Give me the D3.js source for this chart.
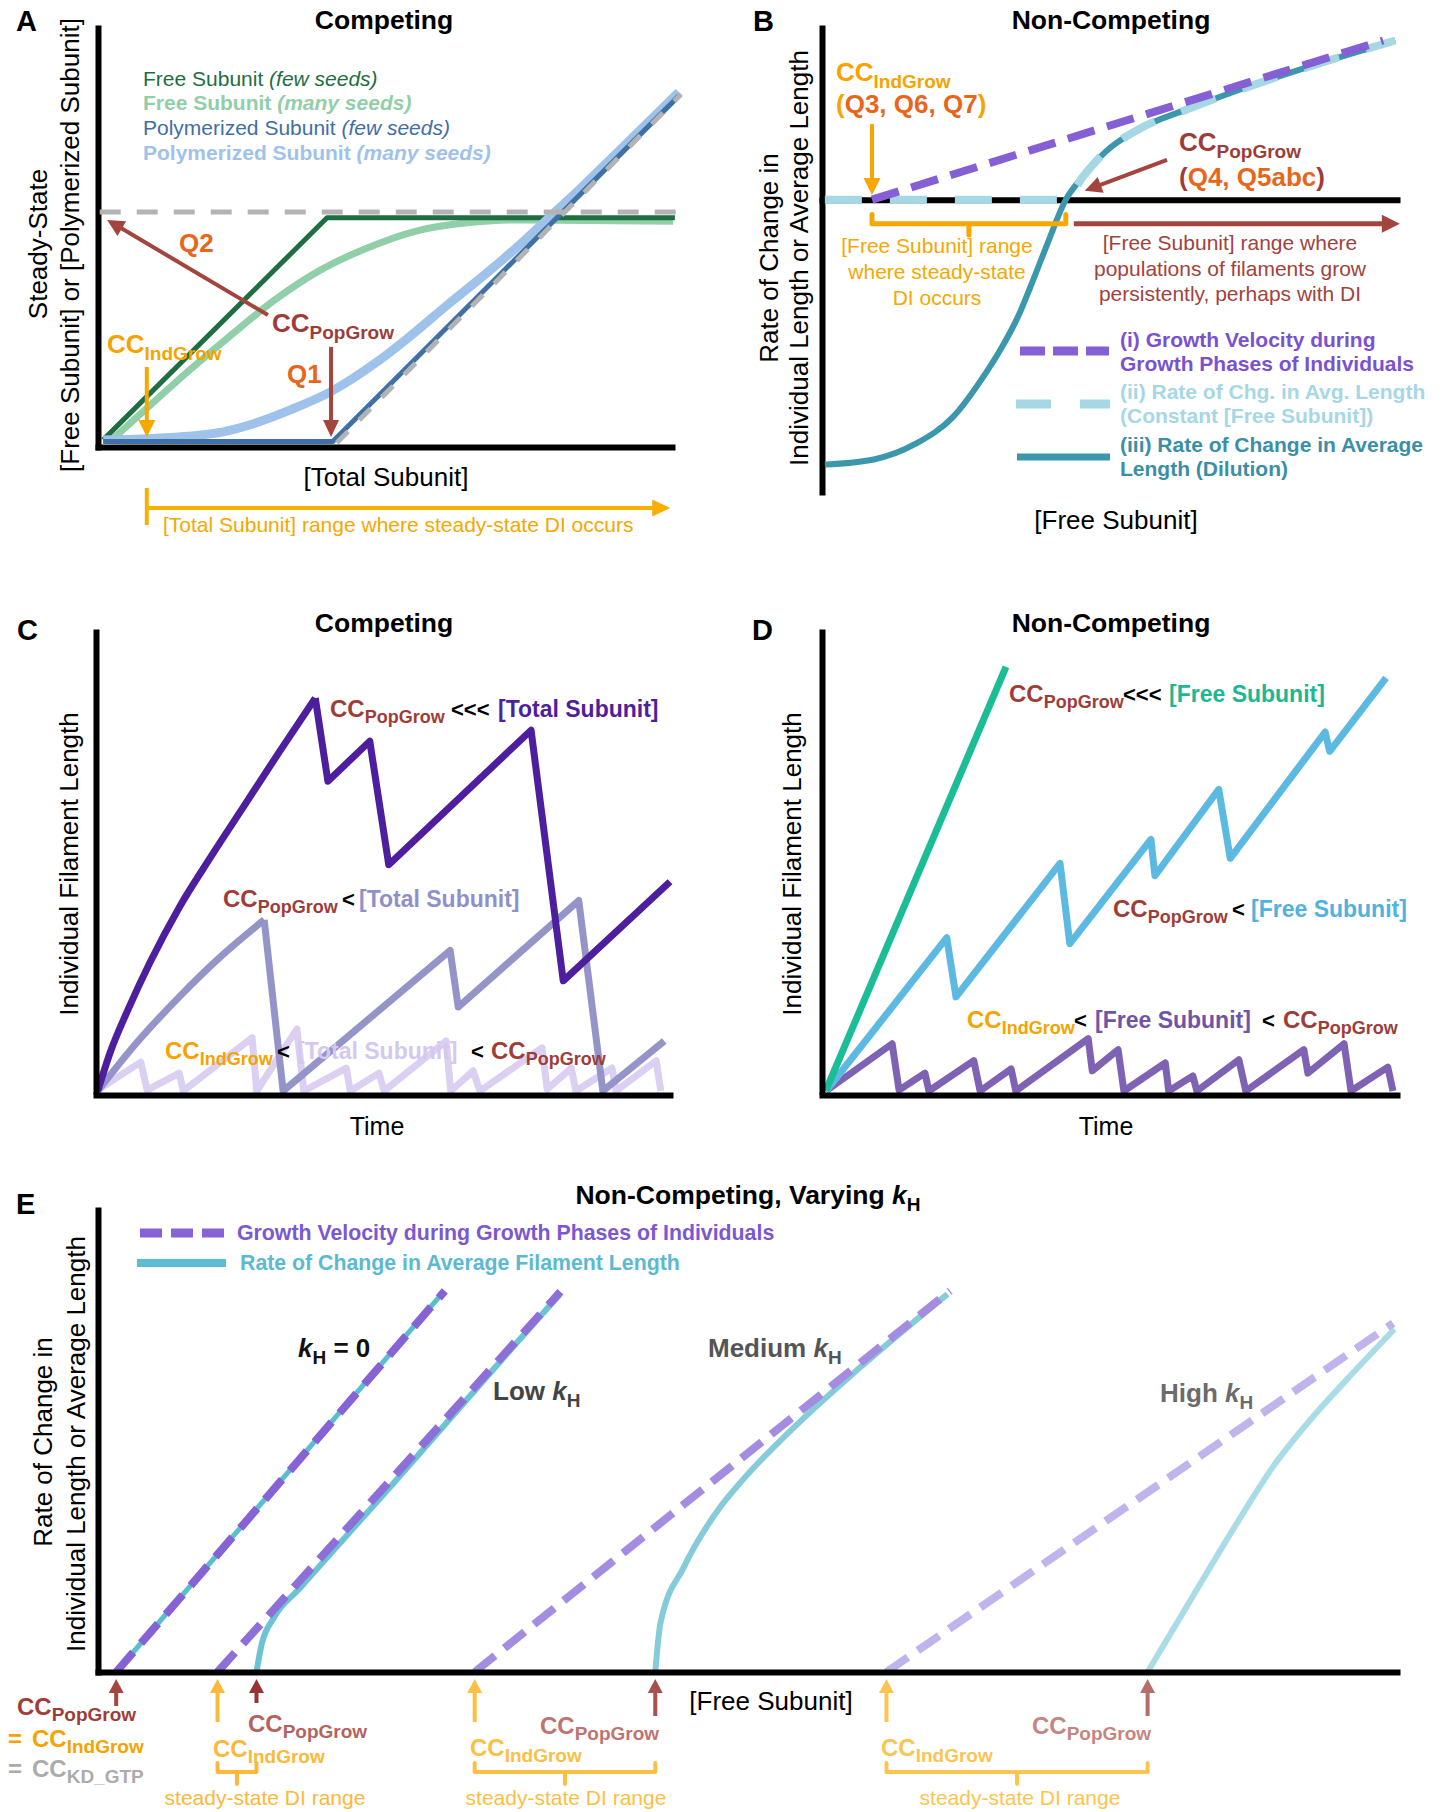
<html>
<head>
<meta charset="utf-8">
<style>
  body { margin: 0; background: #fff; }
  svg { display: block; font-family: "Liberation Sans", Arial, sans-serif; }
  .axis path { stroke: #000; stroke-width: 6px; stroke-linecap: square; }
  .axis .tick { display: none; }
</style>
</head>
<body>
<svg width="1450" height="1812"></svg>
<script src="https://d3js.org/d3.v7.min.js"></script>
<script>
// ---------- Panel A: steady state vs [Total Subunit] (arbitrary 0-100 units) ----------
var aCC = [8.5, 40.6];               // CC_IndGrow, CC_PopGrow
var aFreeFew = [[0.9,1.7],[39.9,54.7],[100.5,54.7]];
var aFreeMany = [[2.4,1.7],[9.1,10.0],[16.0,18.4],[23.0,26.5],[30.8,35.1],[38.2,41.8],[46.9,47.5],[55.6,51.6],[64.3,53.5],[73.0,54.2],[100.2,53.9]];
var aPolyFew = [[0.9,1.3],[40.9,1.3],[101.2,83.8]];
var aPolyMany = [[0.9,1.7],[10.3,2.1],[21.8,3.6],[26.5,5.3],[33.4,8.8],[40.4,13.1],[48.6,20.3],[53.8,25.8],[61.3,34.4],[67.1,40.8],[73.0,47.7],[78.7,54.9],[84.5,62.3],[90.4,70.2],[101.2,84.7]];
var aKdLevel = [[0.3,56.1],[100.7,56.1]];
var aKdSlope = [[41.6,1.0],[101.6,84.2]];

// ---------- Panel B: rates vs [Free Subunit] ----------
var bCC = [8.7, 42.4];
var bGrowth = [[8.7,0],[97.6,34.3]];
var bDilution = [[0.5,-57.1],[9.0,-56.0],[16.3,-52.6],[22.8,-46.8],[28.3,-37.7],[31.0,-32.4],[34.1,-25.2],[36.7,-17.4],[39.2,-9.5],[42.4,0],[45.4,5.0],[49.2,10.2],[55.1,15.2],[63.3,19.4],[71.3,23.1],[83.5,28.2],[99.7,34.3]];
var bConstFree = [[0.5,0],[42.4,0],[45.4,5.0],[49.2,10.2],[55.1,15.2],[63.3,19.4],[71.3,23.1],[83.5,28.2],[99.7,34.3]];

// ---------- Panel C: competing, length vs time ----------
var cHighRise = [[0.3,0],[2.5,8.5],[5.5,17.5],[9.4,28],[14.5,40],[20,51],[26,62.5],[32,74],[38.2,85.6]];
var cHighDI = [[38.2,85.6],[40.4,67.5],[47.7,76.2],[51.0,49.3],[75.8,78.6],[81.4,24.0],[100,45.6]];
var cMidRise = [[0.3,0],[6.6,9.8],[14.5,20.5],[22.1,29.7],[29.3,37.3]];
var cMidDI = [[29.3,37.3],[32.6,0],[61.7,30.6],[63.1,18.3],[84.1,41.5],[88.3,0],[99,10.9]];
var cLowDI = [[0,0],[7.8,6.3],[8.9,0.2],[14.5,3.9],[15.2,0],[27.2,11.6],[28.0,0],[35.0,13.5],[36.2,0],[43.6,5.0],[44.3,0],[49.3,3.9],[50.2,0],[61.0,10.9],[61.8,0],[65.7,4.4],[66.9,0],[77.7,9.4],[78.6,0.4],[82.8,5.0],[83.6,0],[89.9,5.0],[90.6,0],[97.6,6.6],[98.4,0]];

// ---------- Panel D: non-competing, length vs time ----------
var dFast = [[0.7,0.2],[32,92.4]];
var dMid = [[0.7,0],[21.7,33.4],[23.3,20.5],[41.4,49.6],[43.1,32.1],[57.2,54.8],[57.9,46.9],[69,65.7],[71,50.7],[87.5,78.2],[88.3,74],[98.1,90]];
var dSlow = [[0.7,0],[12.2,10.3],[13.4,0.2],[17.9,3.9],[18.6,0],[26.4,6.6],[27.5,0],[32.9,4.8],[33.7,0],[46.3,11.4],[47,4.4],[51.5,9],[52.5,0],[59.7,6.1],[60.3,0],[64.5,3.3],[65.2,0],[72.5,6.8],[73.7,0],[83.8,9],[84.5,3.9],[90.8,10.3],[92,0],[98.4,5.2],[99.3,0]];

// ---------- Panel E: varying kH ----------
var eLabels = ["kH = 0", "Low kH", "Medium kH", "High kH"];
var eIndCC = [1.4, 9.2, 29.0, 60.7];
var ePopCC = [1.4, 12.2, 42.9, 80.8];
var eGrowthTop = [[26.7,82.5],[35.6,82.3],[65.6,82.5],[99.7,75.5]];
var eAvg = [
  [[1.4,0],[26.6,82.3]],
  [[12.2,0],[12.6,6],[13.6,12],[15.5,18],[18.5,27.5],[22,38.5],[27,54.5],[32,70.5],[35.5,81.6]],
  [[42.9,0],[43.3,10.6],[45.1,22.7],[47.9,35.7],[49.7,41.8],[53.3,52.2],[58.7,66.0],[65.4,81.8]],
  [[80.8,0],[83.8,14.1],[87.3,30.5],[90.6,45.0],[93.3,54.5],[96.2,63.5],[99.8,74.2]]
];

var RED = "#9e3d38", ORANGE = "#f5a300", QORANGE = "#e8661b", ARROWRED = "#a3443d";

var svg = d3.select("svg");
svg.append("rect").attr("width", 1450).attr("height", 1812).attr("fill", "#fff");

function txt(g, x, y, s, o) {
  o = o || {};
  var t = g.append("text").attr("x", x).attr("y", y).text(s)
    .attr("font-size", o.size || 21)
    .attr("fill", o.fill || "#000")
    .attr("text-anchor", o.anchor || "start");
  if (o.bold) t.attr("font-weight", "bold");
  if (o.italic) t.attr("font-style", "italic");
  return t;
}

function rich(g, x, y, parts, anchor) {
  var t = g.append("text").attr("x", x).attr("y", y).attr("text-anchor", anchor || "start");
  var shift = 0;
  parts.forEach(function(p) {
    var s = t.append("tspan").text(p.t)
      .attr("font-size", p.size || 21)
      .attr("fill", p.fill || "#000")
      .attr("font-weight", p.bold ? "bold" : "normal")
      .attr("font-style", p.italic ? "italic" : "normal");
    if (p.x != null) s.attr("x", p.x);
    var want = p.sub || 0;
    if (want !== shift) { s.attr("dy", want - shift); shift = want; }
  });
  return t;
}

function cc(sub, fill, size, subSize, x) {
  return [{t: "CC", x: x, size: size, bold: true, fill: fill},
          {t: sub, size: subSize, bold: true, fill: fill, sub: Math.round(size * 0.27)}];
}

function arrow(g, x1, y1, x2, y2, color, w, hl, hw) {
  var a = Math.atan2(y2 - y1, x2 - x1), c = Math.cos(a), s = Math.sin(a);
  var bx = x2 - hl * c, by = y2 - hl * s;
  g.append("line").attr("x1", x1).attr("y1", y1).attr("x2", bx + c).attr("y2", by + s)
    .attr("stroke", color).attr("stroke-width", w);
  g.append("path")
    .attr("d", "M" + x2 + "," + y2 + "L" + (bx - hw / 2 * s) + "," + (by + hw / 2 * c) + "L" + (bx + hw / 2 * s) + "," + (by - hw / 2 * c) + "Z")
    .attr("fill", color);
}

function bracket(g, xa, xb, yTop, yMid, yTick, color, w) {
  var xm = (xa + xb) / 2;
  g.append("path")
    .attr("d", "M" + xa + "," + yTop + "V" + yMid + "H" + xb + "V" + yTop + "M" + xm + "," + yMid + "V" + yTick)
    .attr("fill", "none").attr("stroke", color).attr("stroke-width", w)
    .attr("stroke-linejoin", "round").attr("stroke-linecap", "round");
}

function vlabel(g, cx, cy, s, size) {
  g.append("text").attr("transform", "translate(" + cx + "," + cy + ") rotate(-90)")
    .attr("text-anchor", "middle").attr("dy", "0.3em").attr("font-size", size).text(s);
}

function path(g, data, line, color, w, dash) {
  var p = g.append("path").datum(data).attr("d", line)
    .attr("fill", "none").attr("stroke", color).attr("stroke-width", w)
    .attr("stroke-linejoin", "round");
  if (dash) p.attr("stroke-dasharray", dash);
  return p;
}

function axes(g, x, y, xAt, yAt) {
  g.append("g").attr("class", "axis").attr("transform", "translate(0," + xAt + ")")
    .call(d3.axisBottom(x).tickValues([]).tickSizeOuter(0));
  g.append("g").attr("class", "axis").attr("transform", "translate(" + yAt + ",0)")
    .call(d3.axisLeft(y).tickValues([]).tickSizeOuter(0));
}

// ======================= Panel A =======================
var gA = svg.append("g");
var xA = d3.scaleLinear().domain([0, 100]).range([98, 672]);
var yA = d3.scaleLinear().domain([0, 100]).range([447, 28]);
var lnA = d3.line().x(function(d) { return xA(d[0]); }).y(function(d) { return yA(d[1]); });
var cvA = d3.line().x(function(d) { return xA(d[0]); }).y(function(d) { return yA(d[1]); }).curve(d3.curveMonotoneX);

axes(gA, xA, yA, yA(0), xA(0));
path(gA, aFreeMany, cvA, "#91cfa9", 7);
path(gA, aFreeFew, lnA, "#1e6e42", 5);
path(gA, aPolyMany, cvA, "#9fc2ea", 9);
path(gA, aPolyFew, lnA, "#3f70a6", 5);
path(gA, aKdLevel, lnA, "#b3b3b3", 5, "21,16");
path(gA, aKdSlope, lnA, "#b3b3b3", 5, "16,16");

txt(gA, 16, 31, "A", {size: 29, bold: true});
txt(gA, 384, 29, "Competing", {size: 26.5, bold: true, anchor: "middle"});
rich(gA, 143, 86, [{t: "Free Subunit ", fill: "#1e6e42"}, {t: "(few seeds)", italic: true, fill: "#1e6e42"}]);
rich(gA, 143, 110, [{t: "Free Subunit ", bold: true, fill: "#91cfa9"}, {t: "(many seeds)", bold: true, italic: true, fill: "#91cfa9"}]);
rich(gA, 143, 135, [{t: "Polymerized Subunit ", fill: "#3f6ea6"}, {t: "(few seeds)", italic: true, fill: "#3f6ea6"}]);
rich(gA, 143, 160, [{t: "Polymerized Subunit ", bold: true, fill: "#9fc2ea"}, {t: "(many seeds)", bold: true, italic: true, fill: "#9fc2ea"}]);

arrow(gA, xA(29.6), yA(31.5), xA(1.6), yA(54.2), ARROWRED, 4, 17, 17);
txt(gA, 179, 252, "Q2", {size: 26, bold: true, fill: QORANGE});
rich(gA, 272, 332, cc("PopGrow", RED, 26, 19));
arrow(gA, xA(aCC[1]), yA(23.9), xA(aCC[1]), yA(2.4), ARROWRED, 4, 17, 16);
txt(gA, 287, 383, "Q1", {size: 26, bold: true, fill: QORANGE});
rich(gA, 107, 353, cc("IndGrow", ORANGE, 26, 19));
arrow(gA, xA(aCC[0]), yA(19.1), xA(aCC[0]), yA(2.4), "#f6a800", 4, 17, 17);

txt(gA, 386, 486, "[Total Subunit]", {size: 26, anchor: "middle"});
vlabel(gA, 39, 244, "Steady-State", 26);
vlabel(gA, 71, 245, "[Free Subunit] or [Polymerized Subunit]", 26);

gA.append("line").attr("x1", xA(aCC[0])).attr("x2", xA(aCC[0])).attr("y1", 488).attr("y2", 525)
  .attr("stroke", "#f7b000").attr("stroke-width", 4);
arrow(gA, xA(aCC[0]), 508, xA(99.7), 508, "#f7b000", 4, 18, 17);
txt(gA, 163, 532, "[Total Subunit] range where steady-state DI occurs", {size: 21, fill: "#f5a800"});

// ======================= Panel B =======================
var gB = svg.append("g");
var xB = d3.scaleLinear().domain([0, 100]).range([822, 1397]);
var yB = d3.scaleLinear().domain([-63, 37]).range([492, 28]);
var lnB = d3.line().x(function(d) { return xB(d[0]); }).y(function(d) { return yB(d[1]); });
var cvB = d3.line().x(function(d) { return xB(d[0]); }).y(function(d) { return yB(d[1]); }).curve(d3.curveMonotoneX);

axes(gB, xB, yB, yB(0), xB(0));
path(gB, bDilution, cvB, "#3b97ab", 6);
path(gB, bConstFree, cvB, "#a6d7e5", 8, "37,28");
path(gB, bGrowth, lnB, "#8460d4", 8, "28,13");

txt(gB, 753, 31, "B", {size: 29, bold: true});
txt(gB, 1111, 29, "Non-Competing", {size: 26.5, bold: true, anchor: "middle"});

rich(gB, 836, 81, cc("IndGrow", ORANGE, 26, 19));
rich(gB, 836, 113, [{t: "(", bold: true, size: 26, fill: ORANGE}, {t: "Q3, Q6, Q7", bold: true, size: 26, fill: QORANGE}, {t: ")", bold: true, size: 26, fill: ORANGE}]);
arrow(gB, xB(bCC[0]), yB(16.3), xB(bCC[0]), yB(1.0), "#f6a800", 4, 17, 17);

rich(gB, 1179, 151, cc("PopGrow", RED, 26, 19));
rich(gB, 1179, 186, [{t: "(", bold: true, size: 26, fill: RED}, {t: "Q4, Q5abc", bold: true, size: 26, fill: QORANGE}, {t: ")", bold: true, size: 26, fill: RED}]);
arrow(gB, xB(60), yB(8.6), xB(45.7), yB(1.9), ARROWRED, 4, 17, 17);

bracket(gB, xB(bCC[0]), xB(bCC[1]), yB(-3.2), yB(-5.2), yB(-7.6), "#f6a800", 5);
["[Free Subunit] range", "where steady-state", "DI occurs"].forEach(function(s, i) {
  txt(gB, 937, 253 + i * 26, s, {size: 21, fill: "#f5a800", anchor: "middle"});
});
arrow(gB, xB(43.8), yB(-5.2), xB(100.5), yB(-5.2), ARROWRED, 5, 18, 18);
["[Free Subunit] range where", "populations of filaments grow", "persistently, perhaps with DI"].forEach(function(s, i) {
  txt(gB, 1230, 250 + i * 25.5, s, {size: 21, fill: "#a1433c", anchor: "middle"});
});

gB.append("line").attr("x1", 1020).attr("x2", 1109).attr("y1", 351).attr("y2", 351)
  .attr("stroke", "#8460d4").attr("stroke-width", 9).attr("stroke-dasharray", "25,8");
gB.append("line").attr("x1", 1016).attr("x2", 1110).attr("y1", 404).attr("y2", 404)
  .attr("stroke", "#a6d7e5").attr("stroke-width", 9).attr("stroke-dasharray", "35,29");
gB.append("line").attr("x1", 1017).attr("x2", 1110).attr("y1", 457).attr("y2", 457)
  .attr("stroke", "#3b97ab").attr("stroke-width", 7);
txt(gB, 1120, 347, "(i) Growth Velocity during", {size: 21, bold: true, fill: "#7a52cf"});
txt(gB, 1120, 371, "Growth Phases of Individuals", {size: 21, bold: true, fill: "#7a52cf"});
txt(gB, 1120, 399, "(ii) Rate of Chg. in Avg. Length", {size: 21, bold: true, fill: "#a6d7e5"});
txt(gB, 1120, 423, "(Constant [Free Subunit])", {size: 21, bold: true, fill: "#a6d7e5"});
txt(gB, 1120, 452, "(iii) Rate of Change in Average", {size: 21, bold: true, fill: "#3a8fa6"});
txt(gB, 1120, 476, "Length (Dilution)", {size: 21, bold: true, fill: "#3a8fa6"});

txt(gB, 1116, 529, "[Free Subunit]", {size: 26, anchor: "middle"});
vlabel(gB, 770, 258, "Rate of Change in", 26);
vlabel(gB, 800, 258, "Individual Length or Average Length", 26);

// ======================= Panel C =======================
var gC = svg.append("g");
var xC = d3.scaleLinear().domain([0, 100]).range([96, 670]);
var yC = d3.scaleLinear().domain([0, 100]).range([1091, 632]);
var lnC = d3.line().x(function(d) { return xC(d[0]); }).y(function(d) { return yC(d[1]); });
var cvC = d3.line().x(function(d) { return xC(d[0]); }).y(function(d) { return yC(d[1]); }).curve(d3.curveMonotoneX);

path(gC, cLowDI, lnC, "#dbcff2", 7);
path(gC, cMidRise, cvC, "#9494c8", 7);
path(gC, cMidDI, lnC, "#9494c8", 7);
path(gC, cHighRise, cvC, "#4d1e9e", 7);
path(gC, cHighDI, lnC, "#4d1e9e", 7);
axes(gC, xC, yC, 1095, xC(0));

txt(gC, 17, 640, "C", {size: 29, bold: true});
txt(gC, 384, 632, "Competing", {size: 26.5, bold: true, anchor: "middle"});
rich(gC, 330, 717, cc("PopGrow", RED, 24, 18, 330).concat([
  {t: "<<<", x: 451, size: 22, bold: true},
  {t: "[Total Subunit]", x: 498, size: 23, bold: true, fill: "#4d1e9e"}]));
rich(gC, 223, 907, cc("PopGrow", RED, 24, 18, 223).concat([
  {t: "<", x: 342, size: 22, bold: true},
  {t: "[Total Subunit]", x: 359, size: 23, bold: true, fill: "#9090c8"}]));
rich(gC, 165, 1059, cc("IndGrow", ORANGE, 24, 18, 165).concat([
  {t: "<", x: 277, size: 22, bold: true},
  {t: "[Total Subunit]", x: 297, size: 23, bold: true, fill: "#d4c8f0"},
  {t: "<", x: 471, size: 22, bold: true}]).concat(cc("PopGrow", RED, 24, 18, 491)));
txt(gC, 377, 1135, "Time", {size: 25, anchor: "middle"});
vlabel(gC, 70, 864, "Individual Filament Length", 26);

// ======================= Panel D =======================
var gD = svg.append("g");
var xD = d3.scaleLinear().domain([0, 100]).range([822, 1397]);
var yD = d3.scaleLinear().domain([0, 100]).range([1091, 632]);
var lnD = d3.line().x(function(d) { return xD(d[0]); }).y(function(d) { return yD(d[1]); });

path(gD, dSlow, lnD, "#7e62b3", 7);
path(gD, dMid, lnD, "#5cb9e1", 7);
path(gD, dFast, lnD, "#1bbd97", 7);
axes(gD, xD, yD, 1095, xD(0));

txt(gD, 752, 640, "D", {size: 29, bold: true});
txt(gD, 1111, 632, "Non-Competing", {size: 26.5, bold: true, anchor: "middle"});
rich(gD, 1009, 702, cc("PopGrow", RED, 24, 18, 1009).concat([
  {t: "<<<", x: 1123, size: 22, bold: true},
  {t: "[Free Subunit]", x: 1169, size: 23, bold: true, fill: "#1bb892"}]));
rich(gD, 1113, 917, cc("PopGrow", RED, 24, 18, 1113).concat([
  {t: "<", x: 1232, size: 22, bold: true},
  {t: "[Free Subunit]", x: 1251, size: 23, bold: true, fill: "#4fb3de"}]));
rich(gD, 967, 1028, cc("IndGrow", ORANGE, 24, 18, 967).concat([
  {t: "<", x: 1074, size: 22, bold: true},
  {t: "[Free Subunit]", x: 1095, size: 23, bold: true, fill: "#6e55a8"},
  {t: "<", x: 1262, size: 22, bold: true}]).concat(cc("PopGrow", RED, 24, 18, 1283)));
txt(gD, 1106, 1135, "Time", {size: 25, anchor: "middle"});
vlabel(gD, 793, 864, "Individual Filament Length", 26);

// ======================= Panel E =======================
var gE = svg.append("g");
var xE = d3.scaleLinear().domain([0, 100]).range([98, 1397]);
var yE = d3.scaleLinear().domain([0, 100]).range([1672, 1210]);
var lnE = d3.line().x(function(d) { return xE(d[0]); }).y(function(d) { return yE(d[1]); });
var cvE = d3.line().x(function(d) { return xE(d[0]); }).y(function(d) { return yE(d[1]); }).curve(d3.curveMonotoneX);
var ePurple = ["#8663d5", "#8d6fd8", "#a48de1", "#c1b3eb"];
var eTeal = ["#5bbdd0", "#6cc3d5", "#86cbd9", "#a9dce6"];
var eRedLab = [RED, "#b5635c", "#c0746e", "#c58580"];
var eRedArr = ["#a5473f", "#993333", "#a8504b", "#b56e69"];
var eOrange = [ORANGE, "#fbb83a", "#fbbf45", "#fcc451"];

eAvg.forEach(function(d, i) {
  path(gE, d, i === 0 ? lnE : cvE, eTeal[i], i === 0 ? 5 : 6);
  path(gE, [[eIndCC[i], 0], eGrowthTop[i]], lnE, ePurple[i], 8, "26,12");
});
axes(gE, xE, yE, yE(0), xE(0));

txt(gE, 16, 1214, "E", {size: 29, bold: true});
rich(gE, 748, 1204, [{t: "Non-Competing, Varying ", size: 26.5, bold: true},
  {t: "k", size: 26.5, bold: true, italic: true}, {t: "H", size: 19, bold: true, sub: 7}], "middle");

gE.append("line").attr("x1", 140).attr("x2", 226).attr("y1", 1233).attr("y2", 1233)
  .attr("stroke", "#8663d5").attr("stroke-width", 9).attr("stroke-dasharray", "22,9");
gE.append("line").attr("x1", 137).attr("x2", 226).attr("y1", 1263).attr("y2", 1263)
  .attr("stroke", "#5bbdd0").attr("stroke-width", 8);
txt(gE, 237, 1240, "Growth Velocity during Growth Phases of Individuals", {size: 21.3, bold: true, fill: "#7b57d1"});
txt(gE, 240, 1270, "Rate of Change in Average Filament Length", {size: 21.3, bold: true, fill: "#5bb9d1"});

var eLabPos = [[298, 1357, "#111"], [493, 1400, "#444"], [708, 1357, "#555"], [1160, 1402, "#6b6b6b"]];
eLabels.forEach(function(s, i) {
  var pre = s.split("kH")[0], post = s.split("kH")[1];
  var parts = [];
  if (pre) parts.push({t: pre, size: 26, bold: true, fill: eLabPos[i][2]});
  parts.push({t: "k", size: 26, bold: true, italic: true, fill: eLabPos[i][2]});
  parts.push({t: "H", size: 19, bold: true, fill: eLabPos[i][2], sub: 7});
  if (post) parts.push({t: post, size: 26, bold: true, fill: eLabPos[i][2]});
  rich(gE, eLabPos[i][0], eLabPos[i][1], parts);
});

// arrows and labels below the axis
arrow(gE, xE(ePopCC[0]), 1706, xE(ePopCC[0]), 1679, eRedArr[0], 4, 14, 15);
rich(gE, 17, 1715, cc("PopGrow", RED, 24, 19));
rich(gE, 8, 1747, [{t: "=", size: 24, bold: true, fill: ORANGE}].concat(cc("IndGrow", ORANGE, 24, 19, 32)));
rich(gE, 8, 1777, [{t: "=", size: 24, bold: true, fill: "#ababab"}].concat(cc("KD_GTP", "#ababab", 24, 19, 32)));

var popLab = [null, [248, 1732], [540, 1734], [1032, 1734]];
var indLab = [null, [213, 1757], [470, 1756], [881, 1756]];
var rangeTxt = [null, 265, 566, 1020];
[1, 2, 3].forEach(function(i) {
  arrow(gE, xE(eIndCC[i]), 1722, xE(eIndCC[i]), 1679, eOrange[i], 4, 14, 15);
  arrow(gE, xE(ePopCC[i]), i === 1 ? 1703 : 1716, xE(ePopCC[i]), 1679, eRedArr[i], 4, 14, 15);
  rich(gE, popLab[i][0], popLab[i][1], cc("PopGrow", eRedLab[i], 24, 19));
  rich(gE, indLab[i][0], indLab[i][1], cc("IndGrow", eOrange[i], 24, 19));
  bracket(gE, xE(eIndCC[i]), xE(ePopCC[i]), 1763, 1772, 1784, eOrange[i], 4);
  txt(gE, rangeTxt[i], 1805, "steady-state DI range", {size: 21, fill: eOrange[i], anchor: "middle"});
});

txt(gE, 771, 1710, "[Free Subunit]", {size: 26, anchor: "middle"});
vlabel(gE, 44, 1442, "Rate of Change in", 26);
vlabel(gE, 77, 1444, "Individual Length or Average Length", 26);
</script>
</body>
</html>
